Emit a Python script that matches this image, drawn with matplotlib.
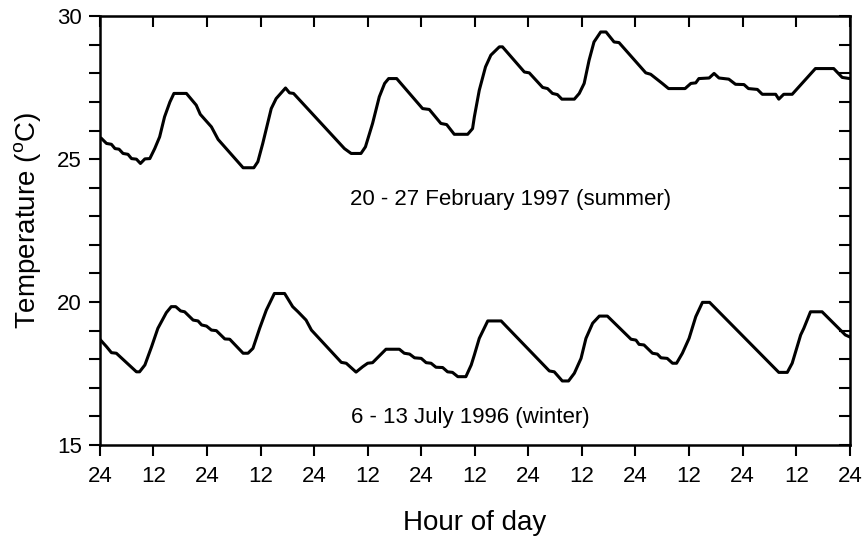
import numpy as np
import matplotlib.pyplot as plt
from matplotlib.ticker import MultipleLocator

plt.rcParams['font.family'] = ['Liberation Sans', 'DejaVu Sans']
plt.rcParams['mathtext.fontset'] = 'custom'
plt.rcParams['mathtext.rm'] = 'Liberation Sans'

# summer record, 20-27 Feb 1997 (hours since first midnight, deg C)
summer_h = [0.4, 1.5, 2.6, 3.4, 4.3, 5.2, 6.3, 7.1, 8.2, 9.1, 10.1, 11.2, 12.3, 13.4,
            14.5, 15.7, 16.6, 19.4, 21.6, 22.5, 25.0, 26.5, 32.1, 34.5, 35.4, 36.5,
            38.4, 39.5, 41.6, 42.5, 43.4, 54.8, 56.3, 58.5, 59.5, 61.1, 62.6, 63.8,
            64.7, 66.5, 72.3, 73.8, 76.4, 77.7, 79.4, 82.4, 83.5, 83.9, 85.0, 86.4,
            87.6, 89.5, 90.2, 95.1, 96.2, 99.2, 100.3, 101.4, 102.5, 103.5, 106.3,
            107.4, 108.5, 109.6, 110.7, 112.2, 113.4, 115.2, 116.3, 122.3, 123.4,
            126.0, 127.4, 131.1, 132.4, 133.5, 134.2, 136.5, 137.6, 138.7, 140.9,
            142.4, 144.3, 145.3, 147.3, 148.4, 151.4, 152.1, 153.2, 155.1, 160.3,
            164.4, 166.3, 168.0]
summer_t = [25.72, 25.55, 25.52, 25.37, 25.35, 25.20, 25.17, 25.02, 25.00, 24.85,
            25.01, 25.02, 25.37, 25.78, 26.48, 27.00, 27.30, 27.30, 26.89, 26.57,
            26.13, 25.69, 24.70, 24.70, 24.91, 25.55, 26.77, 27.12, 27.49, 27.32,
            27.30, 25.37, 25.20, 25.20, 25.43, 26.25, 27.18, 27.65, 27.82, 27.82,
            26.77, 26.74, 26.25, 26.21, 25.87, 25.87, 26.07, 26.48, 27.41, 28.23,
            28.64, 28.93, 28.93, 28.05, 28.02, 27.51, 27.47, 27.30, 27.26, 27.10,
            27.10, 27.30, 27.65, 28.46, 29.10, 29.45, 29.45, 29.10, 29.08, 28.02,
            27.97, 27.65, 27.47, 27.47, 27.65, 27.67, 27.82, 27.84, 28.00, 27.84,
            27.80, 27.62, 27.61, 27.47, 27.44, 27.27, 27.27, 27.10, 27.27, 27.27,
            28.17, 28.17, 27.86, 27.82]

# winter record, 6-13 July 1996
winter_h = [0.0, 1.5, 2.6, 3.7, 8.2, 8.9, 10.1, 11.6, 13.0, 14.9, 16.0, 17.0, 18.1,
            19.0, 20.9, 22.0, 22.8, 23.9, 25.0, 26.1, 28.0, 29.1, 32.1, 33.2, 34.3,
            35.8, 37.3, 39.1, 41.4, 43.2, 44.4, 46.2, 47.4, 54.1, 55.2, 57.4, 58.9,
            60.0, 61.1, 64.1, 67.1, 68.2, 69.4, 70.5, 72.0, 73.1, 74.2, 75.3, 76.8,
            77.9, 79.0, 80.2, 82.0, 83.2, 83.9, 85.0, 86.9, 89.9, 91.0, 100.7, 101.8,
            103.6, 105.0, 106.3, 107.8, 108.9, 110.4, 111.9, 113.7, 119.0, 120.1,
            120.8, 121.9, 123.8, 124.9, 125.7, 127.1, 128.3, 129.2, 130.5, 132.0,
            133.5, 135.0, 136.6, 152.1, 154.0, 155.1, 157.0, 157.7, 159.2, 161.8,
            167.0, 168.0]
winter_t = [18.70, 18.44, 18.23, 18.21, 17.56, 17.56, 17.80, 18.44, 19.08, 19.63,
            19.84, 19.84, 19.69, 19.66, 19.37, 19.34, 19.20, 19.16, 19.02, 19.00,
            18.71, 18.70, 18.21, 18.21, 18.38, 19.08, 19.72, 20.30, 20.30, 19.84,
            19.66, 19.37, 19.02, 17.89, 17.86, 17.55, 17.74, 17.86, 17.88, 18.35,
            18.35, 18.21, 18.18, 18.05, 18.03, 17.88, 17.86, 17.72, 17.71, 17.56,
            17.54, 17.39, 17.39, 17.80, 18.15, 18.73, 19.34, 19.34, 19.16, 17.59,
            17.56, 17.24, 17.24, 17.51, 18.03, 18.73, 19.26, 19.51, 19.51, 18.70,
            18.67, 18.52, 18.50, 18.21, 18.18, 18.05, 18.03, 17.86, 17.86, 18.21,
            18.73, 19.49, 19.99, 19.99, 17.54, 17.54, 17.86, 18.85, 19.08, 19.66,
            19.66, 18.85, 18.78]

xtick_pos = np.arange(0, 169, 12)
xtick_lab = ['24' if i % 2 == 0 else '12' for i in range(len(xtick_pos))]

fig = plt.figure(figsize=(8.68, 5.42), dpi=100)
ax = fig.add_axes([0.115, 0.179, 0.864, 0.791])

ax.plot(summer_h, summer_t, color='black', lw=2.2, solid_joinstyle='round')
ax.plot(winter_h, winter_t, color='black', lw=2.2, solid_joinstyle='round')

ax.set_xlim(0, 168)
ax.set_ylim(15, 30)
ax.set_xticks(xtick_pos)
ax.set_xticklabels(xtick_lab)
ax.yaxis.set_major_locator(MultipleLocator(5))
ax.yaxis.set_minor_locator(MultipleLocator(1))
ax.tick_params(axis='both', which='both', direction='out', length=8, width=1.5)
ax.tick_params(axis='both', which='major', labelsize=16, pad=5)
ax.tick_params(axis='x', pad=7)
for s in ax.spines.values():
    s.set_linewidth(1.8)

# top and right axes carry inward ticks only
top = ax.secondary_xaxis('top')
top.set_xticks(xtick_pos)
top.tick_params(direction='in', length=8, width=1.5, labeltop=False)
right = ax.secondary_yaxis('right')
right.yaxis.set_major_locator(MultipleLocator(1))
right.tick_params(direction='in', length=8, width=1.5, labelright=False)

ax.text(92, 23.6, '20 - 27 February 1997 (summer)', ha='center', va='center', fontsize=16)
ax.text(83, 15.96, '6 - 13 July 1996 (winter)', ha='center', va='center', fontsize=16)

ax.set_xlabel('Hour of day', fontsize=20, labelpad=17)
ax.set_ylabel('Temperature ($\\mathregular{^{o}}$C)', fontsize=20)
ax.yaxis.set_label_coords(-0.076, 0.525)

fig.savefig('out.png', dpi=100)
